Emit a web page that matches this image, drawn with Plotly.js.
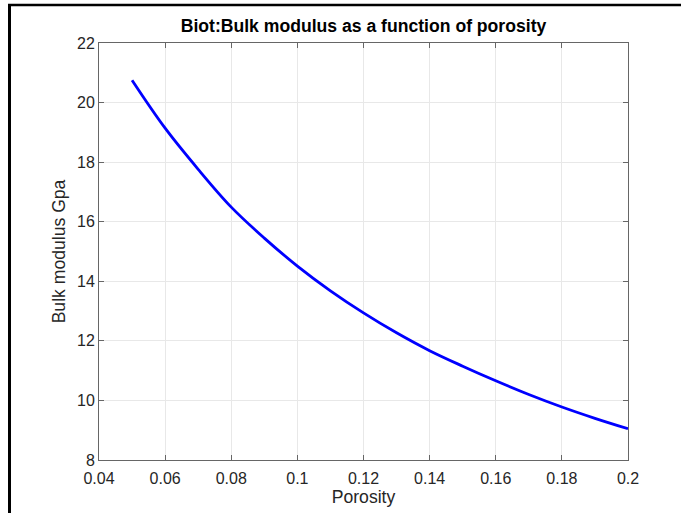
<!DOCTYPE html>
<html>
<head>
<meta charset="utf-8">
<script src="https://cdn.plot.ly/plotly-3.0.1.min.js"></script>
<style>html,body{margin:0;padding:0;background:#fff;}#chart{width:681px;height:513px;}</style>
</head>
<body>
<div id="chart"></div>
<script>
var porosity = [0.05, 0.06, 0.07, 0.08, 0.09, 0.10, 0.11, 0.12, 0.13, 0.14, 0.15, 0.16, 0.17, 0.18, 0.19, 0.20];
var bulkModulus = [20.75, 19.14, 17.76, 16.49, 15.45, 14.51, 13.68, 12.94, 12.27, 11.67, 11.15, 10.66, 10.20, 9.78, 9.40, 9.05];
var xTicks = [0.04, 0.06, 0.08, 0.1, 0.12, 0.14, 0.16, 0.18, 0.2];
var xTickLabels = ["0.04", "0.06", "0.08", "0.1", "0.12", "0.14", "0.16", "0.18", "0.2"];
var yTicks = [8, 10, 12, 14, 16, 18, 20, 22];

var FONT = 'Liberation Sans, Arial, Helvetica, sans-serif';

var trace = {
  x: porosity, y: bulkModulus, type: 'scatter', mode: 'lines',
  line: {color: '#0000ff', width: 2.8, shape: 'spline'},
  hoverinfo: 'x+y'
};

var axisCommon = {
  showline: true, linecolor: '#666666', linewidth: 1, mirror: 'ticks',
  ticks: 'inside', ticklen: 5, tickcolor: '#666666',
  showgrid: true, gridcolor: '#e8e8e8', gridwidth: 1,
  zeroline: false,
  tickfont: {family: FONT, size: 16, color: '#262626'}
};

var layout = {
  width: 681, height: 513,
  margin: {l: 99, r: 53, t: 43, b: 53},
  paper_bgcolor: '#ffffff', plot_bgcolor: '#ffffff',
  showlegend: false,
  title: {
    text: '<b>Biot:Bulk modulus as a function of porosity</b>',
    font: {family: FONT, size: 17.6, color: '#000000'},
    x: 0.5, xref: 'paper', xanchor: 'center', y: 1, yref: 'paper', yanchor: 'bottom', pad: {b: 11}
  },
  xaxis: Object.assign({}, axisCommon, {
    range: [0.04, 0.2], tickmode: 'array', tickvals: xTicks, ticktext: xTickLabels,
    ticklabelstandoff: 4,
    title: {text: 'Porosity', standoff: 4, font: {family: FONT, size: 17.6, color: '#262626'}}
  }),
  yaxis: Object.assign({}, axisCommon, {
    range: [8, 22], tickmode: 'array', tickvals: yTicks,
    title: {text: 'Bulk modulus Gpa', standoff: 6, font: {family: FONT, size: 17.6, color: '#262626'}}
  }),
  shapes: [
    {type: 'line', xref: 'paper', yref: 'paper', x0: (9.5 - 99) / 529, x1: (9.5 - 99) / 529, y0: -0.2, y1: 1 + (43 - 4) / 417, line: {color: '#000000', width: 3}},
    {type: 'line', xref: 'paper', yref: 'paper', x0: (8 - 99) / 529, x1: 1.2, y0: 1 + (43 - 5) / 417, y1: 1 + (43 - 5) / 417, line: {color: '#000000', width: 2.5}}
  ]
};

Plotly.newPlot('chart', [trace], layout, {displayModeBar: false, staticPlot: true});
</script>
</body>
</html>
